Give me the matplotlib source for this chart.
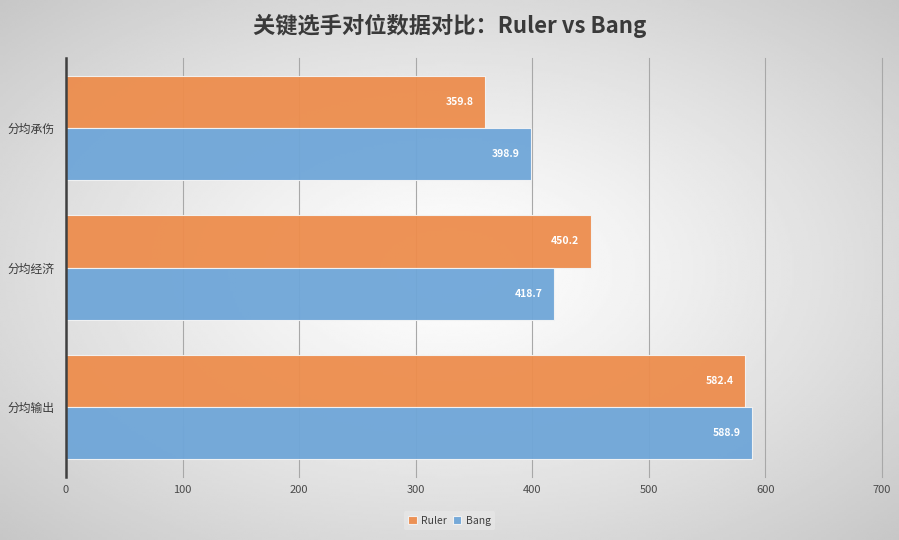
import numpy as np
import matplotlib.pyplot as plt

plt.rcParams['font.family'] = ['Noto Sans CJK SC', 'DejaVu Sans']

# data
categories = ['分均承伤', '分均经济', '分均输出']
ruler = [359.8, 450.2, 582.4]
bang = [398.9, 418.7, 588.9]
xticks = [0, 100, 200, 300, 400, 500, 600, 700]

orange = '#ED8D4D'
blue = '#6FA6D8'

fig = plt.figure(figsize=(8.99, 5.4), dpi=100)

# radial gradient background
bg = fig.add_axes([0, 0, 1, 1], zorder=-10)
gx, gy = np.meshgrid(np.linspace(-1, 1, 400), np.linspace(-1, 1, 240))
rr = np.sqrt(gx**2 + gy**2) / np.sqrt(2)
shade = 1.0 - 0.22 * rr**1.2
bg.imshow(shade, cmap='gray', vmin=0, vmax=1, aspect='auto', extent=[0, 1, 0, 1])
bg.set_axis_off()

ax = fig.add_axes([66/899, (540-477)/540, (882-66)/899, (477-58)/540])
ax.patch.set_alpha(0)

y = np.arange(len(categories))
h = 0.373
b1 = ax.barh(y - h/2, ruler, height=h, color=orange, edgecolor='#f4f4f4', linewidth=0.8,
             alpha=0.95, label='Ruler')
b2 = ax.barh(y + h/2, bang, height=h, color=blue, edgecolor='#f4f4f4', linewidth=0.8,
             alpha=0.95, label='Bang')

for bars, vals in ((b1, ruler), (b2, bang)):
    for bar, v in zip(bars, vals):
        ax.text(v - 10, bar.get_y() + bar.get_height()/2, f'{v:.1f}',
                ha='right', va='center', color='white', fontsize=7.5, fontweight='bold')

ax.set_xlim(0, 700)
ax.set_ylim(2.5, -0.5)
ax.set_xticks(xticks)
ax.set_xticklabels([str(t) for t in xticks], color='#4a4a4a', fontsize=8)
ax.set_yticks(y)
ax.set_yticklabels(categories, color='#3a3a3a', fontsize=8.5)
ax.tick_params(axis='x', length=0, pad=6)
ax.tick_params(axis='y', length=0, pad=8)
ax.grid(axis='x', color='#a8a8a8', linewidth=0.8)
for gl in ax.get_xgridlines():
    gl.set_clip_on(False)
ax.set_axisbelow(True)
for s in ['top', 'right', 'bottom']:
    ax.spines[s].set_visible(False)
ax.spines['left'].set_color('#404040')
ax.spines['left'].set_linewidth(1.8)

fig.text(0.5, 0.952, '关键选手对位数据对比：Ruler vs Bang', ha='center', va='center',
         fontsize=16, color='#3a3a3a', fontweight='bold')

leg = fig.legend(handles=[b1, b2], loc='center', bbox_to_anchor=(0.5, 0.036), ncol=2,
                 fontsize=7.5, frameon=True, handlelength=0.8, handleheight=0.8,
                 handletextpad=0.4, columnspacing=0.6, borderpad=0.4)
leg.get_frame().set_facecolor('#e6e6e6')
leg.get_frame().set_edgecolor('none')
leg.get_frame().set_alpha(0.8)
for t in leg.get_texts():
    t.set_color('#404040')

fig.savefig('out.png', dpi=100)
